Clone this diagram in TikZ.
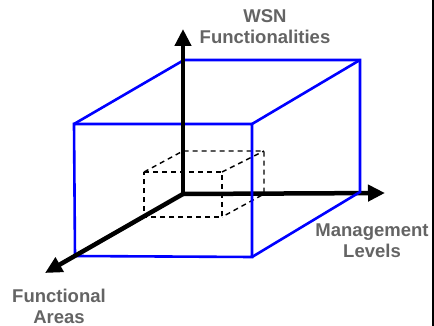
\documentclass[tikz,border=0pt]{standalone}
\usepackage{fontspec}
\setmainfont{Liberation Sans}
\usetikzlibrary{arrows.meta}
\definecolor{labelgray}{RGB}{100,100,100}
\begin{document}
\begin{tikzpicture}
  [x=1pt,y=-1pt,
   axis/.style={line width=4.5pt,-{Triangle[length=17pt,width=16pt]}},
   outer/.style={draw=blue,line width=2.6pt},
   inner/.style={draw=black,line width=1.4pt,dash pattern=on 5pt off 4pt},
   every node/.style={text=labelgray,inner sep=0pt,align=center,
     font=\fontsize{18.5}{21}\selectfont\bfseries}]
  \useasboundingbox (0,0) rectangle (434,326);
  \fill (432,0) rectangle (434,326);

  \coordinate (o) at (183,194);
  \coordinate (up) at (183,29);
  \coordinate (right) at (385,193);
  \coordinate (front) at (45,273);

  \coordinate (bigbtl) at (184,60);
  \coordinate (bigbtr) at (360,60);
  \coordinate (bigbbr) at (360,192);
  \coordinate (bigftl) at (74,124);
  \coordinate (bigftr) at (252,124);
  \coordinate (bigfbr) at (252,257);
  \coordinate (bigfbl) at (75,256);

  \coordinate (smbtl) at (183,151);
  \coordinate (smbtr) at (264,151);
  \coordinate (smbbr) at (264,194);
  \coordinate (smftl) at (144,172);
  \coordinate (smftr) at (222,172);
  \coordinate (smfbr) at (222,217);
  \coordinate (smfbl) at (144,217);

  \draw[axis] (o) -- (right);

  \draw[inner] (smftl) -- (smftr) -- (smfbr) -- (smfbl) -- cycle;
  \draw[inner] (smftl) -- (smbtl) -- (smbtr) -- (smbbr) -- (smfbr);
  \draw[inner] (smftr) -- (smbtr);

  \draw[outer] (bigftl) -- (bigftr) -- (bigfbr) -- (bigfbl) -- cycle;
  \draw[outer] (bigftl) -- (bigbtl) -- (bigbtr) -- (bigbbr) -- (bigfbr);
  \draw[outer] (bigftr) -- (bigbtr);

  \draw[axis] (o) -- (up);
  \draw[axis] (o) -- (front);

  \node (wsn) at (265,27) {WSN\\Functionalities};
  \node (levels) at (372,241) {Management\\Levels};
  \node (areas) at (59,306) {Functional\\Areas};
\end{tikzpicture}
\end{document}
